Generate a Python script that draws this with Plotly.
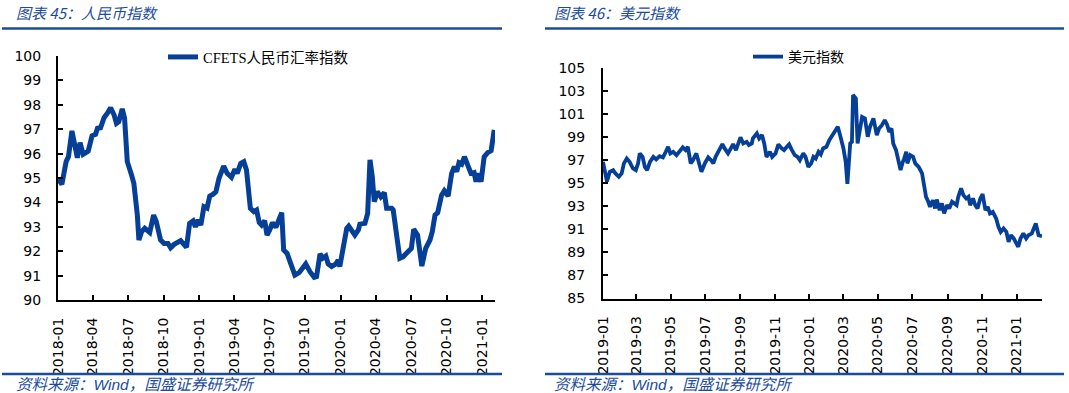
import plotly.graph_objects as go

# ---------------- data ----------------
cfets_dates = [
    "2018-01-02", "2018-01-11", "2018-01-22", "2018-01-28", "2018-02-06", "2018-02-20", "2018-02-27",
    "2018-03-07", "2018-03-20", "2018-03-30", "2018-04-08", "2018-04-13", "2018-04-21", "2018-04-30",
    "2018-05-10", "2018-05-17", "2018-05-26", "2018-06-01", "2018-06-07", "2018-06-16", "2018-06-22",
    "2018-06-29", "2018-07-10", "2018-07-16", "2018-07-25", "2018-07-29", "2018-08-05", "2018-08-13",
    "2018-08-26", "2018-09-05", "2018-09-12", "2018-09-23", "2018-10-02", "2018-10-12", "2018-10-19",
    "2018-10-28", "2018-11-14", "2018-11-29", "2018-12-07", "2018-12-16", "2018-12-22", "2018-12-29",
    "2019-01-05", "2019-01-13", "2019-01-21", "2019-01-28", "2019-02-06", "2019-02-13", "2019-02-21",
    "2019-03-05", "2019-03-14", "2019-03-25", "2019-04-03", "2019-04-09", "2019-04-18", "2019-04-26",
    "2019-05-03", "2019-05-13", "2019-05-22", "2019-05-29", "2019-06-05", "2019-06-11", "2019-06-19",
    "2019-06-25", "2019-07-02", "2019-07-09", "2019-07-18", "2019-07-24", "2019-08-02", "2019-08-07",
    "2019-08-16", "2019-08-25", "2019-09-05", "2019-09-16", "2019-10-03", "2019-10-14", "2019-10-25",
    "2019-10-31", "2019-11-09", "2019-11-16", "2019-11-24", "2019-11-30", "2019-12-09", "2019-12-20",
    "2019-12-26", "2019-12-30", "2020-01-10", "2020-01-17", "2020-01-22", "2020-01-30", "2020-02-07",
    "2020-02-16", "2020-02-20", "2020-03-04", "2020-03-11", "2020-03-17", "2020-03-23", "2020-03-28",
    "2020-04-05", "2020-04-14", "2020-04-23", "2020-04-29", "2020-05-12", "2020-05-16", "2020-06-02",
    "2020-06-11", "2020-06-19", "2020-07-02", "2020-07-08", "2020-07-18", "2020-07-29", "2020-08-08",
    "2020-08-19", "2020-08-25", "2020-09-01", "2020-09-08", "2020-09-18", "2020-09-25", "2020-10-05",
    "2020-10-14", "2020-10-21", "2020-10-27", "2020-11-02", "2020-11-09", "2020-11-16", "2020-11-26",
    "2020-12-03", "2020-12-11", "2020-12-16", "2020-12-22", "2020-12-29", "2021-01-06", "2021-01-15",
    "2021-01-24", "2021-02-01",
]
cfets_values = [
    94.95, 94.74, 95.67, 95.87, 96.93, 95.83, 96.45,
    95.97, 96.10, 96.73, 96.79, 97.04, 97.06, 97.47,
    97.69, 97.88, 97.58, 97.24, 97.31, 97.83, 97.45,
    95.67, 95.12, 94.78, 93.48, 92.46, 92.80, 92.94,
    92.77, 93.48, 93.21, 92.46, 92.32, 92.32, 92.14,
    92.28, 92.43, 92.16, 93.14, 93.24, 93.00, 93.28,
    93.07, 93.82, 93.76, 94.26, 94.34, 94.44, 94.99,
    95.49, 95.19, 95.03, 95.36, 95.19, 95.60, 95.67,
    95.33, 93.76, 93.62, 93.69, 93.17, 93.07, 93.25,
    92.66, 92.87, 93.17, 92.98, 93.28, 93.58, 92.05,
    91.91, 91.50, 91.02, 91.12, 91.48, 91.16, 90.93,
    90.96, 91.89, 91.71, 91.80, 91.48, 91.37, 91.48,
    91.64, 91.37, 92.53, 92.94, 93.03, 92.87, 92.66,
    92.87, 93.11, 93.14, 93.55, 95.74, 95.05, 94.03,
    94.44, 94.23, 94.40, 93.76, 93.76, 93.69, 91.71,
    91.78, 91.91, 92.12, 92.90, 92.66, 91.39, 92.12,
    92.46, 92.80, 93.48, 93.58, 94.30, 94.48, 94.26,
    95.19, 95.46, 95.26, 95.63, 95.57, 95.87, 95.46,
    95.19, 95.22, 94.85, 95.19, 94.85, 95.87, 96.04,
    96.12, 96.97,
]

usd_dates = [
    "2019-01-01", "2019-01-08", "2019-01-13", "2019-01-19", "2019-01-23", "2019-01-29", "2019-02-03",
    "2019-02-07", "2019-02-12", "2019-02-17", "2019-02-23", "2019-02-28", "2019-03-04", "2019-03-07",
    "2019-03-12", "2019-03-16", "2019-03-20", "2019-03-25", "2019-03-31", "2019-04-05", "2019-04-11",
    "2019-04-17", "2019-04-22", "2019-04-26", "2019-04-30", "2019-05-05", "2019-05-11", "2019-05-15",
    "2019-05-22", "2019-05-27", "2019-05-31", "2019-06-05", "2019-06-09", "2019-06-15", "2019-06-20",
    "2019-06-24", "2019-06-30", "2019-07-06", "2019-07-11", "2019-07-15", "2019-07-19", "2019-07-25",
    "2019-07-31", "2019-08-04", "2019-08-10", "2019-08-15", "2019-08-19", "2019-08-24", "2019-08-28",
    "2019-09-01", "2019-09-06", "2019-09-12", "2019-09-16", "2019-09-21", "2019-09-23", "2019-09-30",
    "2019-10-04", "2019-10-09", "2019-10-13", "2019-10-17", "2019-10-23", "2019-10-27", "2019-11-02",
    "2019-11-07", "2019-11-13", "2019-11-17", "2019-11-22", "2019-11-26", "2019-11-30", "2019-12-06",
    "2019-12-11", "2019-12-15", "2019-12-21", "2019-12-25", "2019-12-30", "2020-01-04", "2020-01-08",
    "2020-01-12", "2020-01-17", "2020-01-21", "2020-01-25", "2020-01-31", "2020-02-05", "2020-02-10",
    "2020-02-15", "2020-02-20", "2020-02-24", "2020-03-01", "2020-03-05", "2020-03-08", "2020-03-13",
    "2020-03-16", "2020-03-18", "2020-03-23", "2020-03-26", "2020-03-30", "2020-04-03", "2020-04-08",
    "2020-04-13", "2020-04-17", "2020-04-23", "2020-04-29", "2020-05-03", "2020-05-08", "2020-05-13",
    "2020-05-17", "2020-05-21", "2020-05-25", "2020-05-28", "2020-06-02", "2020-06-06", "2020-06-10",
    "2020-06-14", "2020-06-16", "2020-06-20", "2020-06-22", "2020-06-27", "2020-07-02", "2020-07-06",
    "2020-07-12", "2020-07-18", "2020-07-20", "2020-07-25", "2020-07-29", "2020-08-01", "2020-08-06",
    "2020-08-10", "2020-08-13", "2020-08-18", "2020-08-22", "2020-08-26", "2020-08-31", "2020-09-04",
    "2020-09-09", "2020-09-13", "2020-09-17", "2020-09-20", "2020-09-25", "2020-09-29", "2020-10-04",
    "2020-10-08", "2020-10-11", "2020-10-16", "2020-10-20", "2020-10-24", "2020-10-29", "2020-11-02",
    "2020-11-07", "2020-11-11", "2020-11-15", "2020-11-20", "2020-11-26", "2020-11-30", "2020-12-04",
    "2020-12-09", "2020-12-14", "2020-12-18", "2020-12-22", "2020-12-27", "2020-12-31", "2021-01-04",
    "2021-01-08", "2021-01-13", "2021-01-18", "2021-01-22", "2021-01-28", "2021-02-04", "2021-02-09",
    "2021-02-15",
]
usd_values = [
    96.86, 95.15, 95.99, 96.14, 95.85, 95.56, 95.85,
    96.72, 97.15, 96.86, 96.28, 96.14, 96.72, 97.59,
    97.29, 96.42, 96.14, 96.86, 97.29, 97.07, 97.35,
    97.24, 97.73, 98.16, 97.59, 97.73, 97.44, 97.73,
    98.11, 97.87, 98.16, 96.72, 97.00, 97.59, 96.57,
    95.99, 96.72, 97.24, 97.00, 96.72, 97.29, 97.81,
    98.39, 98.02, 97.59, 98.02, 98.39, 97.87, 98.45,
    98.98, 98.45, 98.59, 98.31, 98.45, 98.89, 99.32,
    98.89, 99.18, 98.45, 97.29, 97.73, 97.29, 97.59,
    98.37, 98.02, 97.87, 98.16, 98.37, 97.96, 97.44,
    97.29, 97.00, 97.59, 97.29, 96.42, 96.72, 97.29,
    97.15, 97.73, 97.50, 98.02, 98.16, 98.74, 99.18,
    99.46, 99.90, 99.18, 98.02, 96.86, 94.95, 98.45,
    98.59, 102.65, 102.36, 98.45, 99.46, 100.76, 100.63,
    99.03, 99.90, 100.63, 99.18, 99.76, 100.04, 100.48,
    100.10, 99.46, 99.76, 98.45, 97.87, 96.86, 96.14,
    96.86, 97.07, 97.73, 96.72, 97.44, 97.29, 96.72,
    96.42, 95.85, 95.27, 93.82, 93.39, 92.95, 93.53,
    92.81, 93.59, 92.66, 93.25, 92.38, 93.10, 92.81,
    93.39, 93.25, 93.10, 93.82, 94.55, 93.97, 93.68,
    93.82, 93.10, 93.68, 93.10, 92.81, 93.68, 94.05,
    92.66, 92.95, 92.38, 92.52, 91.94, 91.22, 90.78,
    91.08, 90.78, 89.91, 90.49, 90.21, 89.77, 89.48,
    90.21, 90.64, 90.21, 90.49, 90.64, 91.51, 90.49,
    90.41,
]

left_title = "图表 45：人民币指数"
right_title = "图表 46：美元指数"
source_text = "资料来源：Wind，国盛证券研究所"
left_name = "CFETS人民币汇率指数"
right_name = "美元指数"

# ---------------- styling ----------------
W, H = 1069, 393
LINE_BLUE = "#053F98"
HEAD_BLUE = "#1B4C9B"
TICK_FONT = dict(family="DejaVu Sans, Verdana, sans-serif", size=14, color="#000000")
CJK = "Noto Sans CJK SC"


def px_x(p):
    return p / W


def px_y(p):
    return 1 - p / H


fig = go.Figure()
fig.add_trace(go.Scatter(
    x=cfets_dates, y=cfets_values, mode="lines", name=left_name,
    line=dict(color=LINE_BLUE, width=5), xaxis="x", yaxis="y", legend="legend",
))
fig.add_trace(go.Scatter(
    x=usd_dates, y=usd_values, mode="lines", name=right_name,
    line=dict(color=LINE_BLUE, width=3.8), xaxis="x2", yaxis="y2", legend="legend2",
))

axis_common = dict(
    showline=True, linecolor="black", linewidth=2, showgrid=False, zeroline=False,
    ticks="inside", ticklen=5, tickwidth=1.5, tickcolor="black", tickfont=TICK_FONT,
    mirror=False, fixedrange=True, automargin=False,
)

fig.update_layout(
    width=W, height=H, autosize=False,
    margin=dict(l=0, r=0, t=0, b=0, pad=0, autoexpand=False),
    paper_bgcolor="white", plot_bgcolor="white",
    showlegend=True,
    xaxis=dict(
        domain=[px_x(58), px_x(495)], anchor="y", type="date",
        range=["2018-01-01", "2021-02-03"], dtick="M3", tick0="2018-01-01",
        tickformat="%Y-%m", tickangle=-90, ticklabelstandoff=10, **axis_common,
    ),
    yaxis=dict(
        domain=[px_y(300), px_y(56)], anchor="x", range=[90, 100], dtick=1, tick0=90,
        ticklabelstandoff=12, **axis_common,
    ),
    xaxis2=dict(
        domain=[px_x(603), px_x(1042)], anchor="y2", type="date",
        range=["2019-01-01", "2021-02-15"], dtick="M2", tick0="2019-01-01",
        tickformat="%Y-%m", tickangle=-90, ticklabelstandoff=10, **axis_common,
    ),
    yaxis2=dict(
        domain=[px_y(298.5), px_y(68)], anchor="x2", range=[85, 105], dtick=2, tick0=85,
        ticklabelstandoff=13, **axis_common,
    ),
    legend=dict(
        x=px_x(163), y=px_y(57), xanchor="left", yanchor="middle",
        bgcolor="rgba(0,0,0,0)", borderwidth=0,
        font=dict(family="Liberation Serif, " + CJK, size=14.5, color="black"),
    ),
    legend2=dict(
        x=px_x(748), y=px_y(57), xanchor="left", yanchor="middle",
        bgcolor="rgba(0,0,0,0)", borderwidth=0,
        font=dict(family="Liberation Serif, " + CJK, size=14, color="black"),
    ),
)

shapes = []
for x0, x1 in [(2, 502), (545, 1064)]:
    for yy in (28.5, 374):
        shapes.append(dict(
            type="line", xref="paper", yref="paper",
            x0=px_x(x0), x1=px_x(x1), y0=px_y(yy), y1=px_y(yy),
            line=dict(color=HEAD_BLUE, width=2.5),
        ))
fig.update_layout(shapes=shapes)

annos = []
for xx, txt in [(14, left_title), (552, right_title)]:
    annos.append(dict(
        xref="paper", yref="paper", x=px_x(xx), y=px_y(12.5), xanchor="left", yanchor="middle",
        text=txt, showarrow=False,
        font=dict(family=CJK, size=15, color=HEAD_BLUE, style="italic"),
    ))
for xx in (14, 552):
    annos.append(dict(
        xref="paper", yref="paper", x=px_x(xx), y=px_y(384), xanchor="left", yanchor="middle",
        text=source_text, showarrow=False,
        font=dict(family="Liberation Sans, " + CJK, size=15.5, color=HEAD_BLUE, style="italic"),
    ))
fig.update_layout(annotations=annos)

# remove the default page margin so the figure sits at the window's top-left corner
fig.write_html(
    "out.html",
    config={"displayModeBar": False},
    post_script="document.body.style.margin='0px';document.body.style.overflow='hidden';",
)
